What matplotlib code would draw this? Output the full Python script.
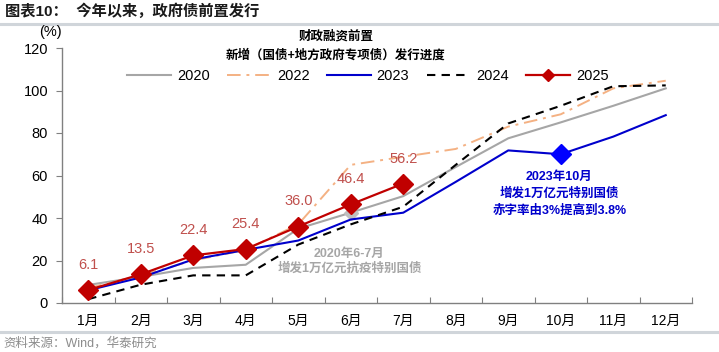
import matplotlib
matplotlib.use("Agg")
import matplotlib.pyplot as plt
from matplotlib.lines import Line2D

plt.rcParams['font.family'] = ['Liberation Sans', 'Noto Sans CJK SC', 'DejaVu Sans']

months = ['1月', '2月', '3月', '4月', '5月', '6月', '7月', '8月', '9月', '10月', '11月', '12月']
y2020 = [8.5, 12.3, 16.5, 18.0, 35.0, 42.5, 50.3, 64.0, 77.5, 85.0, 92.8, 101.0]
y2022 = [7.0, 13.0, 20.0, 25.0, 37.0, 65.0, 68.8, 72.5, 83.0, 88.8, 101.0, 104.6]
y2023 = [6.0, 12.0, 20.5, 25.0, 29.4, 39.3, 42.5, 57.0, 71.8, 70.0, 78.3, 88.4]
y2024 = [1.8, 8.6, 13.0, 13.0, 27.5, 37.0, 45.3, 65.0, 84.5, 92.8, 102.0, 102.4]
y2025 = [6.1, 13.5, 22.4, 25.4, 36.0, 46.4, 56.2]
yticks = [0, 20, 40, 60, 80, 100, 120]

fig = plt.figure(figsize=(7.19, 3.52), dpi=100)
ax = fig.add_axes([62/719, 1-303/352, 630/719, 255/352])

x = list(range(1, 13))
ax.plot(x, y2020, color='#A6A6A6', lw=1.5, zorder=2)
ax.plot([6], [y2020[5]], marker='D', color='#BFBFBF', ms=7, zorder=2)
ax.plot(x, y2022, color='#F4B183', lw=1.4, ls=(0, (7, 3, 1.5, 3)), zorder=2)
ax.plot(x, y2023, color='#0000CC', lw=1.5, zorder=3)
ax.plot([10], [y2023[9]], marker='D', color='#0000FF', ms=10, zorder=3)
ax.plot(x, y2024, color='#000000', lw=1.5, ls=(0, (4, 3)), zorder=3)
ax.plot(x[:len(y2025)], y2025, color='#C00000', lw=1.6, marker='D', ms=10, zorder=4)

for xi, v in zip(x, y2025):
    ax.annotate(f'{v:.1f}', (xi, v), xytext=(0, 13), textcoords='offset points',
                ha='center', va='bottom', color='#C0504D', fontsize=10.5)

ax.set_xlim(0.5, 12.5)
ax.set_ylim(0, 120)
ax.set_yticks(yticks)
ax.set_xticks([i + 0.5 for i in range(0, 13)])
ax.set_xticklabels([])
ax.set_xticks(x, minor=True)
ax.set_xticklabels(months, minor=True)
ax.tick_params(axis='x', which='major', direction='in', length=4, color='#808080')
ax.tick_params(axis='x', which='minor', length=0, pad=8, labelsize=10)
ax.tick_params(axis='y', direction='out', length=4, color='#808080', labelsize=10.5, pad=6)
for s in ['top', 'right']:
    ax.spines[s].set_visible(False)
for s in ['left', 'bottom']:
    ax.spines[s].set_color('#808080')
    ax.spines[s].set_linewidth(1.0)

fig.text(50/719, 1-32/352, '(%)', ha='center', va='center', fontsize=10.5)

fig.text(336/719, 1-36/352, '财政融资前置', ha='center', va='center', fontsize=9, fontweight='bold')
fig.text(336/719, 1-55/352, '新增（国债+地方政府专项债）发行进度', ha='center', va='center', fontsize=9, fontweight='bold')

handles = [
    Line2D([], [], color='#A6A6A6', lw=1.5),
    Line2D([], [], color='#F4B183', lw=1.4, ls=(0, (7, 3, 1.5, 3))),
    Line2D([], [], color='#0000CC', lw=1.5),
    Line2D([], [], color='#000000', lw=1.5, ls=(0, (4, 3))),
    Line2D([], [], color='#C00000', lw=1.6, marker='D', ms=6),
]
fig.legend(handles, ['2020', '2022', '2023', '2024', '2025'], loc='center',
           bbox_to_anchor=(368/719, 1-76/352), ncol=5, frameon=False, fontsize=10.5,
           handlelength=3.0, columnspacing=1.2, handletextpad=0.4)

fig.text(349/719, 1-254/352, '2020年6-7月', ha='center', va='center', fontsize=9,
         fontweight='bold', color='#A6A6A6')
fig.text(350/719, 1-269/352, '增发1万亿元抗疫特别国债', ha='center', va='center', fontsize=9,
         fontweight='bold', color='#A6A6A6')
fig.text(559/719, 1-177/352, '2023年10月', ha='center', va='center', fontsize=9,
         fontweight='bold', color='#0000CC')
fig.text(559/719, 1-194/352, '增发1万亿元特别国债', ha='center', va='center', fontsize=9,
         fontweight='bold', color='#0000CC')
fig.text(560/719, 1-211/352, '赤字率由3%提高到3.8%', ha='center', va='center', fontsize=9,
         fontweight='bold', color='#0000CC')

fig.text(5/719, 1-11/352, '图表10：  今年以来，政府债前置发行', ha='left', va='center', fontsize=11,
         fontweight='bold', color='#1a1a1a')
fig.add_artist(Line2D([0, 1], [1-24/352, 1-24/352], color='#D0D5DA', lw=2.2, transform=fig.transFigure))
fig.add_artist(Line2D([0, 1], [1-332/352, 1-332/352], color='#D0D5DA', lw=2.2, transform=fig.transFigure))
fig.text(3/719, 1-343/352, '资料来源：Wind，华泰研究', ha='left', va='center', fontsize=9, color='#8C8C8C')

fig.savefig('out.png', dpi=100)
